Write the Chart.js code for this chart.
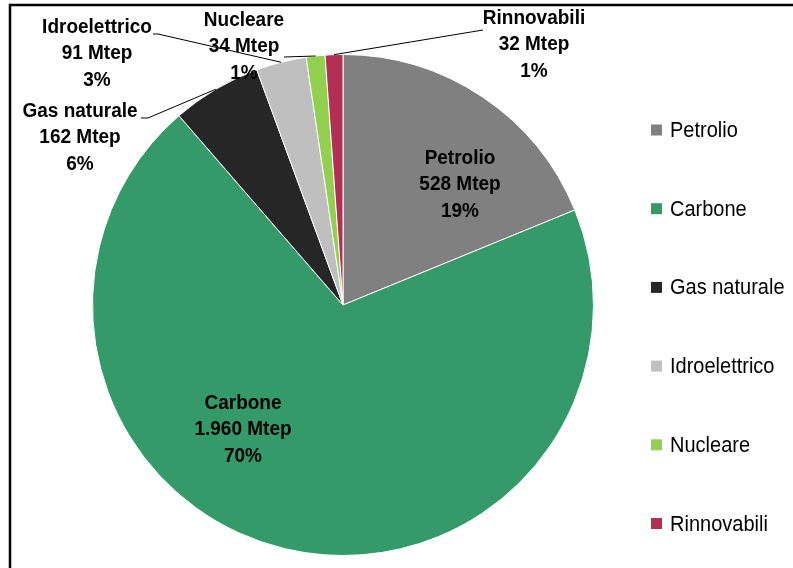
<!DOCTYPE html>
<html>
<head>
<meta charset="utf-8">
<script src="https://cdn.jsdelivr.net/npm/chart.js@4.4.1/dist/chart.umd.min.js"></script>
<style>
  html, body { margin: 0; padding: 0; background: #fff; }
  #wrap { width: 793px; height: 568px; position: relative; }
</style>
</head>
<body>
<div id="wrap"><canvas id="pie"></canvas></div>
<script>
// Fonti energetiche (Mtep)
const categories = ['Petrolio', 'Carbone', 'Gas naturale', 'Idroelettrico', 'Nucleare', 'Rinnovabili'];
const mtep = [528, 1960, 162, 91, 34, 32];
const colors = ['#808080', '#359a69', '#262626', '#bfbfbf', '#92d050', '#b22f56'];

const total = mtep.reduce((a, b) => a + b, 0);

function fmtIt(n) {
    return String(n).replace(/\B(?=(\d{3})+(?!\d))/g, '.');
}

// where each label block goes (center x, first line y); leader lines only for outside ones
const labelSpots = [
    { x: 460, y: 158 },
    { x: 243, y: 403 },
    { x: 80, y: 111, lineFrom: [141, 118], elbow: [148, 118] },
    { x: 97, y: 27, lineFrom: [153, 34], elbow: [158, 34] },
    { x: 244, y: 20, lineFrom: [284, 57], elbow: [284, 57] },
    { x: 534, y: 18, lineFrom: [483, 30], elbow: [483, 30] }
];

function drawText(ctx, t, x, y) {
    // source font is a bit taller than Liberation Sans
    ctx.save();
    ctx.translate(x, y);
    ctx.scale(1, 1.1);
    ctx.fillText(t, 0, 0);
    ctx.restore();
}

const labelsPlugin = {
    id: 'sliceLabels',
    beforeDraw(chart) {
        const ctx = chart.ctx;
        ctx.save();
        ctx.strokeStyle = '#000';
        ctx.lineWidth = 2.5;
        ctx.beginPath();
        ctx.moveTo(10, chart.height);
        ctx.lineTo(10, 5);
        ctx.lineTo(chart.width, 5);
        ctx.stroke();
        ctx.restore();
    },
    afterDraw(chart) {
        const ctx = chart.ctx;
        const arcs = chart.getDatasetMeta(0).data;
        ctx.save();
        ctx.font = 'bold 19px "Liberation Sans", Arial, sans-serif';
        ctx.fillStyle = '#000';
        ctx.textAlign = 'center';
        ctx.textBaseline = 'middle';
        arcs.forEach((arc, i) => {
            const p = arc.getProps(['x', 'y', 'startAngle', 'endAngle', 'outerRadius']);
            const mid = (p.startAngle + p.endAngle) / 2;
            const lines = [categories[i], fmtIt(mtep[i]) + ' Mtep', Math.round(mtep[i] / total * 100) + '%'];
            const spot = labelSpots[i];
            if (spot.lineFrom) {
                const ex = p.x + Math.cos(mid) * p.outerRadius;
                const ey = p.y + Math.sin(mid) * p.outerRadius;
                ctx.strokeStyle = '#000';
                ctx.lineWidth = 1;
                ctx.beginPath();
                ctx.moveTo(spot.lineFrom[0], spot.lineFrom[1]);
                ctx.lineTo(spot.elbow[0], spot.elbow[1]);
                ctx.lineTo(ex, ey);
                ctx.stroke();
            }
            lines.forEach((t, k) => drawText(ctx, t, spot.x, spot.y + k * 26.5));
        });

        // legend
        ctx.font = '20px "Liberation Sans", Arial, sans-serif';
        ctx.textAlign = 'left';
        categories.forEach((c, i) => {
            const y = 130 + i * 78.7;
            ctx.fillStyle = colors[i];
            ctx.fillRect(651, y - 5.5, 11, 11);
            ctx.fillStyle = '#000';
            drawText(ctx, c, 670, y + 1);
        });
        ctx.restore();
    }
};

new Chart(document.getElementById('pie'), {
    type: 'pie',
    data: {
        labels: categories,
        datasets: [{
            data: mtep,
            backgroundColor: colors,
            borderColor: '#ffffff',
            borderWidth: 1,
            hoverOffset: 0
        }]
    },
    options: {
        responsive: true,
        maintainAspectRatio: false,
        animation: false,
        layout: { padding: { left: 92, right: 199, top: 54, bottom: 12 } },
        plugins: {
            legend: { display: false },
            tooltip: { enabled: false }
        }
    },
    plugins: [labelsPlugin]
});
</script>
</body>
</html>
